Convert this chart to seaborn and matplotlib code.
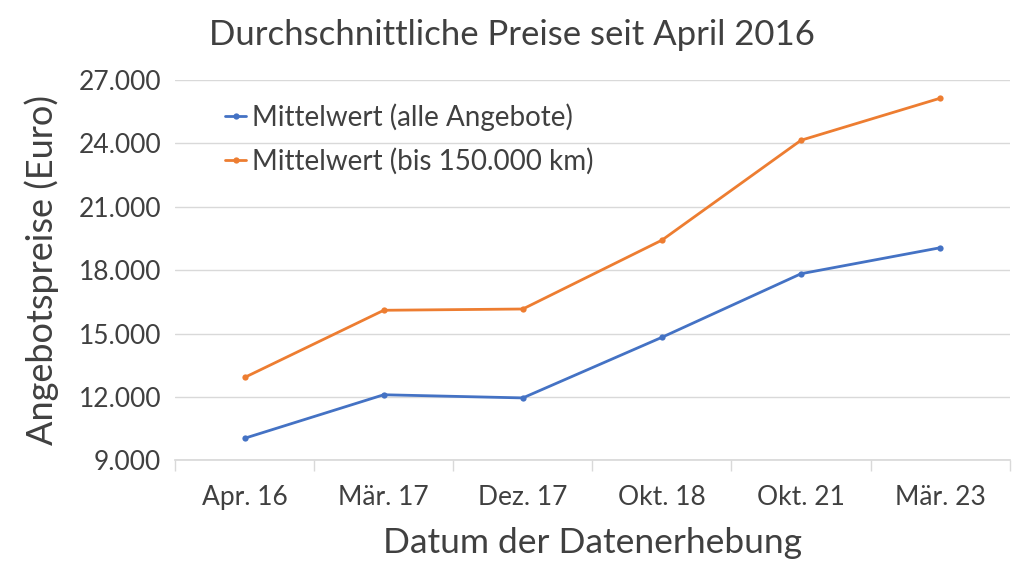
import numpy as np
import pandas as pd
import matplotlib
matplotlib.use("Agg")
import matplotlib.pyplot as plt
import seaborn as sns
from matplotlib.ticker import FuncFormatter, FixedLocator

# Data
dates = ["Apr. 16", "Mär. 17", "Dez. 17", "Okt. 18", "Okt. 21", "Mär. 23"]
mean_all = [10040, 12100, 11950, 14820, 17830, 19060]
mean_150k = [12920, 16100, 16160, 19420, 24150, 26140]
series_names = ["Mittelwert (alle Angebote)", "Mittelwert (bis 150.000 km)"]

df = pd.DataFrame({
    "Datum": dates * 2,
    "Preis": mean_all + mean_150k,
    "Serie": [series_names[0]] * len(dates) + [series_names[1]] * len(dates),
})

sns.set_theme(style="white")
plt.rcParams["font.family"] = ["Lato", "DejaVu Sans"]
text_col = "#404040"

fig = plt.figure(figsize=(10.24, 5.76), dpi=100)
ax = fig.add_axes([0.171, 0.201, 0.815, 0.66])

sns.lineplot(data=df, x="Datum", y="Preis", hue="Serie", sort=False,
             palette=["#4472C4", "#ED7D31"], marker="o", markersize=4.5,
             markeredgewidth=0, linewidth=2, ax=ax)

ax.set_xlim(-0.5, len(dates) - 0.5)
ax.set_ylim(9000, 27000)
ax.set_yticks(np.arange(9000, 27001, 3000))
ax.yaxis.set_major_formatter(FuncFormatter(lambda v, p: f"{int(v):,}".replace(",", ".")))
ax.grid(axis="y", color="#d9d9d9", linewidth=1)

# category boundary ticks on the x axis
ax.xaxis.set_minor_locator(FixedLocator(np.arange(-0.5, len(dates), 1)))
ax.tick_params(axis="x", which="major", length=0, pad=18, labelsize=19, labelcolor=text_col)
ax.tick_params(axis="x", which="minor", length=8, color="#d9d9d9", width=1, bottom=True)
ax.tick_params(axis="y", length=0, pad=10, labelsize=19, labelcolor=text_col)

for s in ["top", "right", "left"]:
    ax.spines[s].set_visible(False)
ax.spines["bottom"].set_color("#d9d9d9")

ax.set_xlabel("Datum der Datenerhebung", fontsize=25.5, color=text_col, labelpad=12)
ax.set_ylabel("Angebotspreise (Euro)", fontsize=26, color=text_col, labelpad=14)
fig.text(0.5, 0.94, "Durchschnittliche Preise seit April 2016", ha="center", va="center",
         fontsize=25, color=text_col)

leg = ax.legend(loc="upper left", bbox_to_anchor=(0.03, 1.005), frameon=False,
                fontsize=20, handlelength=0.75, handletextpad=0.2, labelspacing=0.6)
for t in leg.get_texts():
    t.set_color(text_col)

fig.savefig("out.png", dpi=100, facecolor="white")
